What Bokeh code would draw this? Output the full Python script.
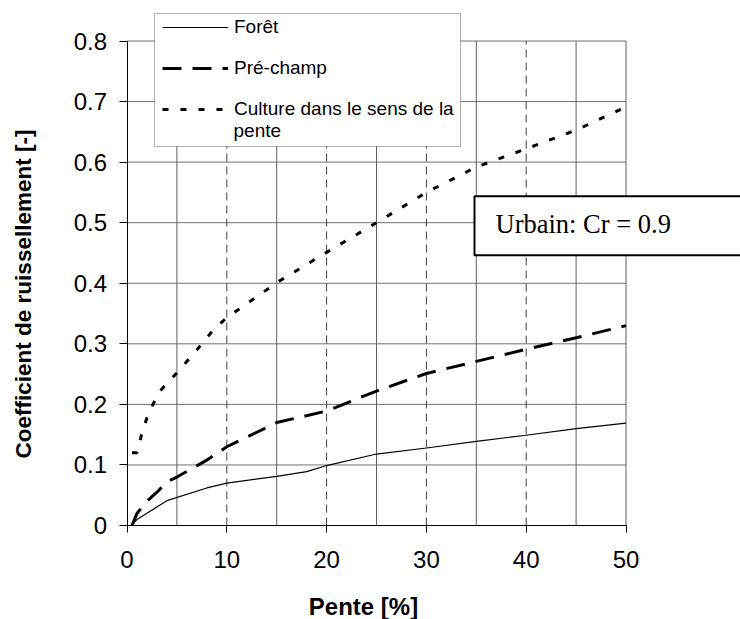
import math
from bokeh.plotting import figure
from bokeh.models import Range1d, FixedTicker, Legend, LegendItem, Label, BoxAnnotation
from bokeh.embed import file_html
from bokeh.resources import INLINE

# ---- data ----
pente_foret = [0.5, 1, 4, 8, 10, 15, 18, 20, 25, 30, 35, 40, 45, 50]
coef_foret = [0.0, 0.01, 0.041, 0.062, 0.07, 0.081, 0.089, 0.099, 0.118, 0.128, 0.139, 0.149, 0.16, 0.169]

pente_pre = [0.5, 1, 2, 3, 4, 5, 8, 10, 15, 20, 25, 30, 35, 40, 45, 50]
coef_pre = [0.0, 0.02, 0.04, 0.055, 0.072, 0.08, 0.108, 0.13, 0.17, 0.189, 0.222, 0.251, 0.271, 0.291, 0.31, 0.33]

pente_cult = [0.5, 1, 1.5, 2, 2.6, 3.3, 5, 7, 8.7, 10, 15, 20, 25, 30, 35, 40, 45, 50]
coef_cult = [0.12, 0.12, 0.153, 0.178, 0.2, 0.222, 0.252, 0.29, 0.324, 0.343, 0.401, 0.451, 0.5, 0.55, 0.592, 0.622, 0.653, 0.691]

series_names = ["Forêt", "Pré-champ", "Culture dans le sens de la"]
series_name_wrap = "pente"   # second line of the third legend label

x_ticks = [0, 10, 20, 30, 40, 50]
x_grid_solid = [5, 15, 25, 35, 45, 50]
x_grid_dashed = [10, 20, 30, 40]
y_ticks = [0, 0.1, 0.2, 0.3, 0.4, 0.5, 0.6, 0.7, 0.8]
y_tick_labels = ["0", "0.1", "0.2", "0.3", "0.4", "0.5", "0.6", "0.7", "0.8"]

x_title = "Pente [%]"
y_title = "Coefficient de ruissellement [-]"
note_text = "Urbain: Cr = 0.9"

FONT = "Liberation Sans"

# ---- layout: the frame covers the whole canvas; the axes sit inside it ----
W, H = 740, 619
X0_PX, X_PX_PER = 126.5, 9.98      # pixel of x=0, pixels per unit
Y0_PX, Y_PX_PER = 525.0, 605.6     # pixel of y=0, pixels per unit
x_range = Range1d(-X0_PX / X_PX_PER, (W - X0_PX) / X_PX_PER)
y_range = Range1d(-(H - Y0_PX) / Y_PX_PER, Y0_PX / Y_PX_PER)

def dx(px):
    return (px - X0_PX) / X_PX_PER

def dy(py):
    return (Y0_PX - py) / Y_PX_PER

p = figure(width=W, height=H, output_backend="svg", toolbar_location=None,
           x_range=x_range, y_range=y_range,
           min_border=0, min_border_left=0, min_border_right=0,
           min_border_top=0, min_border_bottom=0)
p.outline_line_color = None
p.background_fill_color = "white"
p.border_fill_color = "white"
p.xgrid.grid_line_color = None
p.ygrid.grid_line_color = None

x_lo, x_hi = x_ticks[0], x_ticks[-1]
y_lo, y_hi = y_ticks[0], y_ticks[-1]

# grid lines (drawn from the tick lists)
p.segment(x0=x_lo, x1=x_hi, y0=y_ticks[1:], y1=y_ticks[1:], line_color="#707070", line_width=1)
p.segment(x0=x_grid_solid, x1=x_grid_solid, y0=y_lo, y1=y_hi, line_color="#606060", line_width=1)
p.segment(x0=x_grid_dashed, x1=x_grid_dashed, y0=y_lo, y1=y_hi, line_color="#404040",
          line_width=1, line_dash="8 5")

# axes fixed inside the frame at 0
p.xaxis.fixed_location = 0
p.yaxis.fixed_location = 0
p.xaxis.bounds = (x_lo, x_hi)
p.yaxis.bounds = (y_lo, y_hi)
p.xaxis.ticker = FixedTicker(ticks=x_ticks)
p.yaxis.ticker = FixedTicker(ticks=y_ticks)
p.yaxis.major_label_overrides = {t: s for t, s in zip(y_ticks, y_tick_labels)}
for ax in (p.xaxis, p.yaxis):
    ax.axis_line_color = "black"
    ax.axis_line_width = 1
    ax.major_tick_line_color = "black"
    ax.major_tick_in = 0
    ax.minor_tick_line_color = None
    ax.major_label_text_font = FONT
    ax.major_label_text_font_size = "24px"
    ax.major_label_text_color = "black"
p.xaxis.major_tick_out = 7
p.yaxis.major_tick_out = 8
p.xaxis.major_label_standoff = 18
p.yaxis.major_label_standoff = 12

# series
r1 = p.line(pente_foret, coef_foret, line_color="black", line_width=1.2)
r2 = p.line(pente_pre, coef_pre, line_color="black", line_width=3, line_dash="19 11")
r3 = p.line(pente_cult, coef_cult, line_color="black", line_width=3, line_dash="6 12")

# legend: white framed box, native legend items, wrapped second line of the third label
p.add_layout(BoxAnnotation(left=dx(154), right=dx(460), top=dy(13), bottom=dy(146),
                           fill_color="white", fill_alpha=1,
                           line_color="black", line_width=1))
legend = Legend(items=[LegendItem(label=series_names[0], renderers=[r1]),
                       LegendItem(label=series_names[1], renderers=[r2]),
                       LegendItem(label=series_names[2], renderers=[r3])],
                location=(162, H - 121), margin=0, padding=11, spacing=17,
                glyph_width=66, glyph_height=20, label_standoff=6, label_height=24,
                label_text_font=FONT, label_text_font_size="19px", label_text_color="black",
                border_line_color=None, background_fill_alpha=0)
p.add_layout(legend, "center")
p.add_layout(Label(x=dx(233), y=dy(130), text=series_name_wrap, text_font=FONT,
                   text_font_size="19px", text_align="left", text_baseline="middle",
                   text_color="black"))

# axis titles
p.add_layout(Label(x=dx(363), y=dy(606), text=x_title, text_font=FONT, text_font_size="24px",
                   text_font_style="bold", text_align="center", text_baseline="alphabetic",
                   text_color="black"))
p.add_layout(Label(x=dx(22.5), y=dy(293.5), text=y_title, text_font=FONT, text_font_size="22.5px",
                   text_font_style="bold", text_align="center", text_baseline="alphabetic",
                   angle=math.pi / 2, text_color="black"))

# Urbain note box
p.add_layout(Label(x=dx(474), y=dy(195.7), text=note_text, text_font="Liberation Serif",
                   text_font_size="26.5px", text_align="left", text_baseline="top", text_color="black",
                   border_line_color="black", border_line_width=2,
                   background_fill_color="white", background_fill_alpha=1,
                   padding=dict(left=21, right=120, top=13, bottom=16)))

open("out.html", "w").write(file_html(p, INLINE))
